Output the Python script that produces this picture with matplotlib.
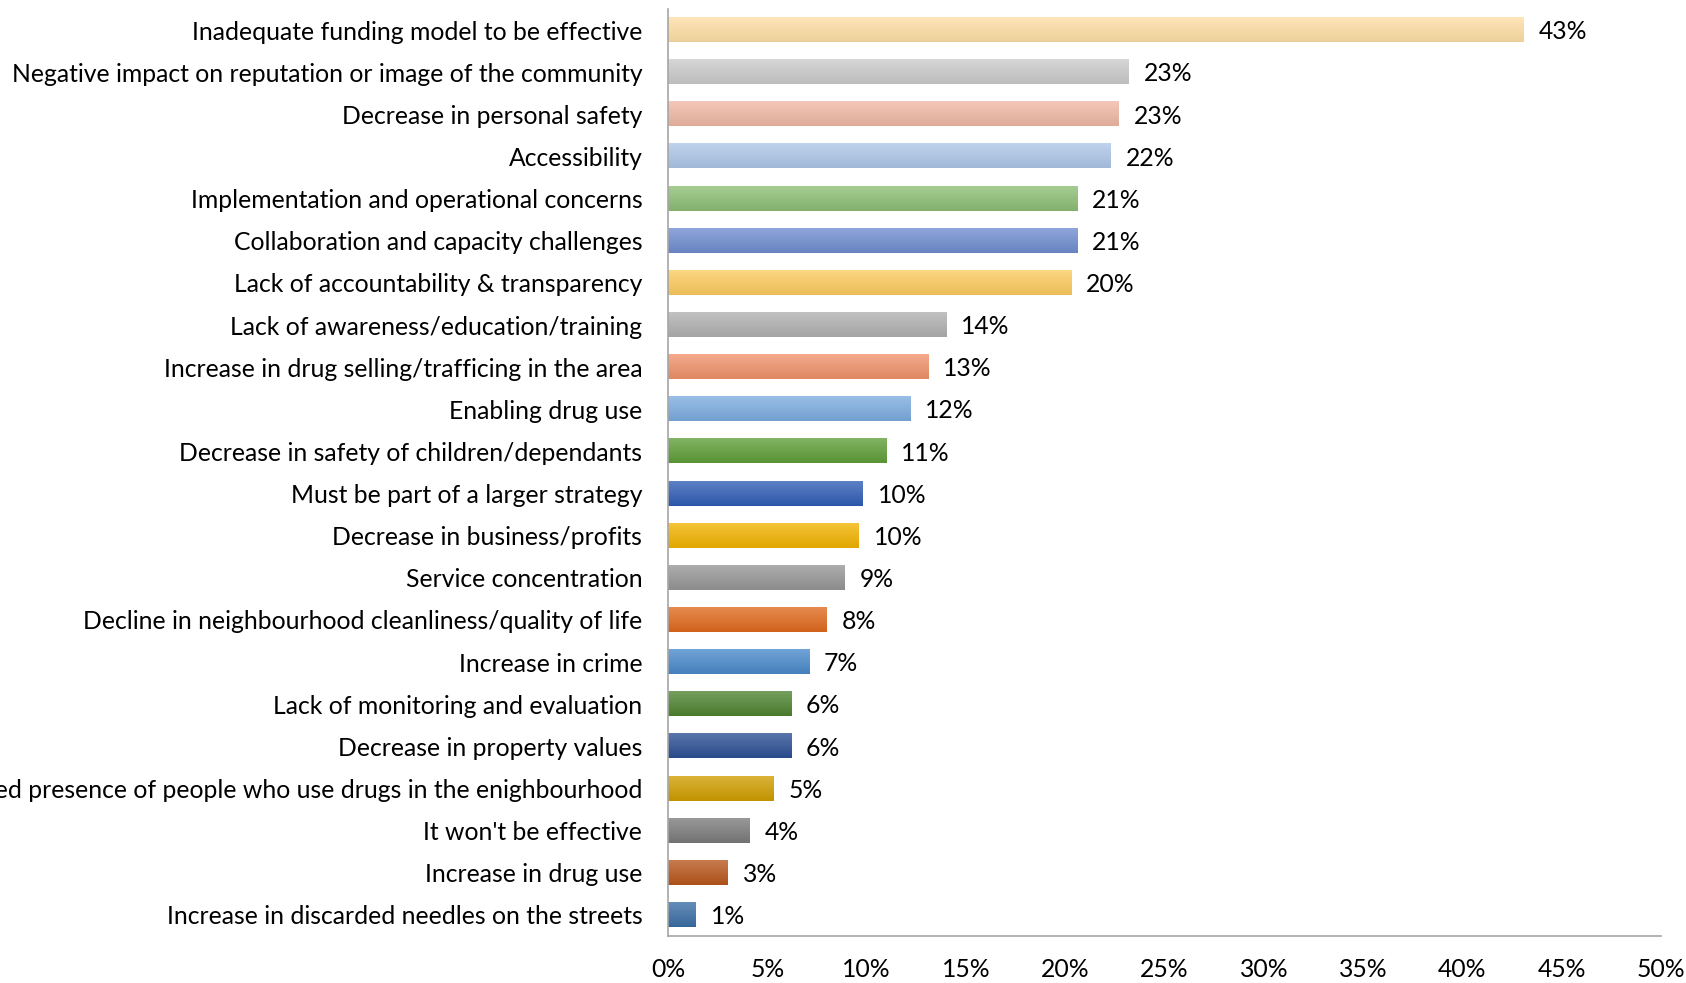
import numpy as np
import matplotlib.pyplot as plt
from matplotlib.colors import to_rgb

plt.rcParams['font.family'] = ['Lato', 'DejaVu Sans']

# 数据（从上到下）
categories = [
    "Inadequate funding model to be effective",
    "Negative impact on reputation or image of the community",
    "Decrease in personal safety",
    "Accessibility",
    "Implementation and operational concerns",
    "Collaboration and capacity challenges",
    "Lack of accountability & transparency",
    "Lack of awareness/education/training",
    "Increase in drug selling/trafficing in the area",
    "Enabling drug use",
    "Decrease in safety of children/dependants",
    "Must be part of a larger strategy",
    "Decrease in business/profits",
    "Service concentration",
    "Decline in neighbourhood cleanliness/quality of life",
    "Increase in crime",
    "Lack of monitoring and evaluation",
    "Decrease in property values",
    "Increased presence of people who use drugs in the enighbourhood",
    "It won't be effective",
    "Increase in drug use",
    "Increase in discarded needles on the streets",
]
values = [43.1, 23.2, 22.7, 22.3, 20.6, 20.6, 20.3, 14.0, 13.1, 12.2, 11.0,
          9.8, 9.6, 8.9, 8.0, 7.1, 6.2, 6.2, 5.3, 4.1, 3.0, 1.4]
colors = ['#FFDFA5', '#CBCBCB', '#F0B8A5', '#ADC6E8', '#8DBE74', '#6F8DD0',
          '#FCCB5E', '#B0B0B0', '#F0926A', '#7CACE0', '#5E9E38', '#2F5DB5',
          '#F2B300', '#969696', '#E06A1E', '#4A8ACB', '#4E8430', '#2C4F94',
          '#D09E00', '#7B7B7B', '#B8561B', '#3A6EA5']
ticks = np.arange(0, 51, 5)

FS = 17.8

fig = plt.figure(figsize=(16.86, 9.83), dpi=100)
ax = fig.add_axes([668 / 1686, 1 - 936 / 983, 993 / 1686, 927 / 983])

y = np.arange(len(categories))
h = 0.57
bars = ax.barh(y, values, height=h, color='none', edgecolor='none')

# 每根柱子画成上浅下深的渐变
for bar, c in zip(bars, colors):
    base = np.array(to_rgb(c))
    top = base + (1 - base) * 0.22
    bot = base * 0.93
    t = np.linspace(0, 1, 64)[:, None]
    grad = top * (1 - t) + bot * t
    x0, y0 = bar.get_x(), bar.get_y()
    w, hh = bar.get_width(), bar.get_height()
    ax.imshow(grad[:, None, :], extent=(x0, x0 + w, y0 + hh, y0),
              aspect='auto', interpolation='bilinear', zorder=2)

for yi, v in zip(y, values):
    ax.text(v + 0.75, yi + 0.04, f"{v:.0f}%", va='center', ha='left',
            fontsize=FS, color='#000000')

ax.set_xlim(0, 50)
ax.set_ylim(len(categories) - 0.5, -0.5)
ax.set_xticks(ticks)
ax.set_xticklabels([f"{t}%" for t in ticks], fontsize=FS)
ax.set_yticks(y)
ax.set_yticklabels(categories, fontsize=FS)
ax.tick_params(axis='y', length=0, pad=18.5)
ax.tick_params(axis='x', length=0, pad=16)

for s in ['top', 'right']:
    ax.spines[s].set_visible(False)
for s in ['left', 'bottom']:
    ax.spines[s].set_color('#A6A6A6')
    ax.spines[s].set_linewidth(1.2)

fig.savefig('out.png', dpi=100)
